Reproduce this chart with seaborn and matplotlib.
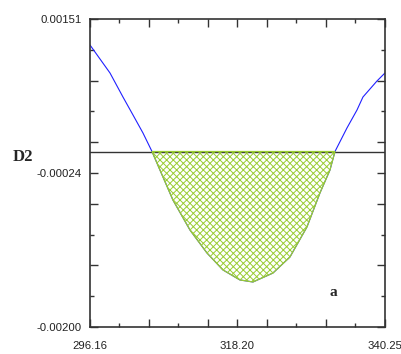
import numpy as np
import pandas as pd
import matplotlib
matplotlib.use("Agg")
import matplotlib.pyplot as plt
import seaborn as sns

# data
x_vals = [296.16, 299.15, 301.09, 302.59, 304.08, 305.43, 306.62, 308.56, 311.11,
          313.65, 316.04, 318.58, 320.52, 323.51, 326.05, 328.59, 330.53, 332.03,
          332.78, 334.57, 336.07, 336.96, 339.05, 340.25]
d2_vals = [0.001214, 0.000895, 0.000621, 0.000416, 0.000211, 0.0, -0.000211,
           -0.000553, -0.000895, -0.001157, -0.001350, -0.001464, -0.001487,
           -0.001385, -0.001202, -0.000860, -0.000473, -0.000211, 0.0, 0.000268,
           0.000473, 0.000621, 0.000803, 0.000895]
x_min, x_max = 296.16, 340.25
y_min, y_max = -0.00200, 0.00151
x_tick_labels = ["296.16", "318.20", "340.25"]
y_tick_labels = ["-0.00200", "-0.00024", "0.00151"]

df = pd.DataFrame({"x": x_vals, "D2": d2_vals})

sns.set_style("white")
plt.rcParams["font.family"] = ["Liberation Sans", "DejaVu Sans"]
plt.rcParams["hatch.linewidth"] = 0.7
plt.rcParams["hatch.color"] = "#9acd32"

fig = plt.figure(figsize=(4.01, 3.54), dpi=100)
ax = fig.add_axes([0.2244, 0.0763, 0.960 - 0.2244, 0.9463 - 0.0763])

sns.lineplot(data=df, x="x", y="D2", ax=ax, color="#2020ff", linewidth=0.8)

xa = np.array(x_vals)
ya = np.array(d2_vals)
ax.fill_between(xa, ya, 0, where=ya <= 0, interpolate=True, facecolor="none",
                edgecolor="#9acd32", hatch="xxxxx", linewidth=0.9, zorder=3)
ax.axhline(0, color="#333333", linewidth=1.0, zorder=2)

ax.set_xlim(x_min, x_max)
ax.set_ylim(y_min, y_max)

xstep = (x_max - x_min) / 10
ystep = (y_max - y_min) / 10
xmaj = [x_min + k * xstep for k in (0, 2, 4, 5, 6, 8, 10)]
xmin_t = [x_min + k * xstep for k in (1, 3, 7, 9)]
ymaj = [y_min + k * ystep for k in (0, 2, 4, 5, 6, 8, 10)]
ymin_t = [y_min + k * ystep for k in (1, 3, 7, 9)]

xlab = ["", "", "", "", "", "", ""]
xlab[0], xlab[3], xlab[6] = x_tick_labels
ylab = ["", "", "", "", "", "", ""]
ylab[0], ylab[3], ylab[6] = y_tick_labels

ax.set_xticks(xmaj)
ax.set_xticklabels(xlab)
ax.set_xticks(xmin_t, minor=True)
ax.set_yticks(ymaj)
ax.set_yticklabels(ylab)
ax.set_yticks(ymin_t, minor=True)

ax.tick_params(which="both", direction="in", top=True, right=True,
               bottom=True, left=True, color="#333333", width=1.0)
ax.tick_params(which="major", length=6)
ax.tick_params(which="minor", length=3)
ax.tick_params(axis="x", which="major", pad=10, labelsize=8.2, labelcolor="#222222")
ax.tick_params(axis="y", which="major", pad=6, labelsize=8.2, labelcolor="#222222")

for s in ax.spines.values():
    s.set_color("#333333")
    s.set_linewidth(1.2)

ax.set_xlabel("")
ax.set_ylabel("")
fig.text(23 / 401, 1 - 157 / 354, "D2", fontsize=12, fontweight="bold",
         family=["Liberation Serif", "DejaVu Serif"], ha="center", va="center")
fig.text(333 / 401, 1 - 292 / 354, "a", fontsize=11, fontweight="bold",
         family=["Liberation Serif", "DejaVu Serif"], ha="center", va="center")

fig.savefig("out.png", dpi=100)
